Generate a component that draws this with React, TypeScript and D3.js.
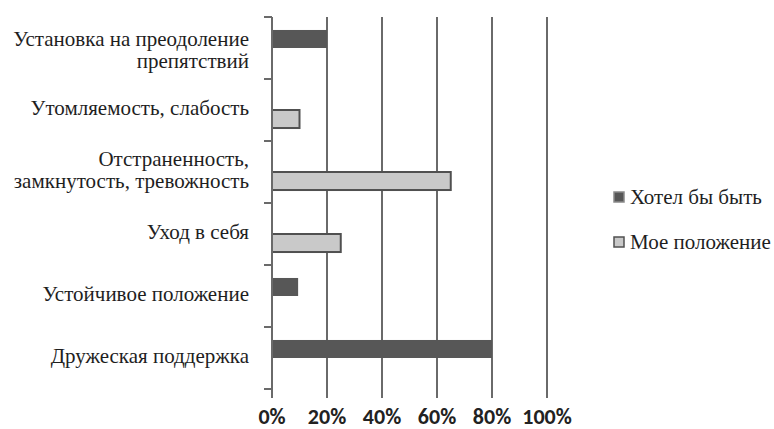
import React from 'react';
import * as d3 from 'd3';

// Categories, top to bottom (| marks a line break in the label)
const categories = [
  'Установка на преодоление|препятствий',
  'Утомляемость, слабость',
  'Отстраненность,|замкнутость, тревожность',
  'Уход в себя',
  'Устойчивое положение',
  'Дружеская поддержка',
];

const seriesNames = ['Хотел бы быть', 'Мое положение'];

// values in %, null = no bar
const wantToBe = [20, null, null, null, 9.5, 80];
const myPosition = [null, 10, 65, 25, null, null];

const xTicks = [0, 20, 40, 60, 80, 100];

const SERIF = "'Liberation Serif', 'Times New Roman', serif";
const SANS = "Carlito, 'Liberation Sans', sans-serif";

const width = 774;
const height = 429;
const left = 272;
const right = 547;
const top = 17;
const bottom = 389;

const x = d3.scaleLinear().domain([0, 100]).range([left, right]);
const y = d3.scaleBand<string>().domain(categories).range([top, bottom]).padding(0);
const ySub = d3.scaleBand<string>()
  .domain(seriesNames)
  .range([0, y.bandwidth()])
  .paddingInner(0)
  .paddingOuter(0.72);

const series = [
  { name: seriesNames[0], values: wantToBe, fill: '#575757', stroke: 'none', key: '#8a8a8a' },
  { name: seriesNames[1], values: myPosition, fill: '#c9c9c9', stroke: '#505050', key: '#505050' },
];

const axisColor = '#6a6a6a';
const lineH = 22;

const App: React.FC = () => {
  if (typeof document !== 'undefined') document.body.style.margin = '0';

  const yTickPos = [...categories.map((c) => y(c) as number), bottom];

  return (
    <svg width={width} height={height} viewBox={`0 0 ${width} ${height}`} style={{ display: 'block', background: '#fff' }}>
      {/* gridlines, running on below the plot as tick marks */}
      {xTicks.map((t) => (
        <line key={`g${t}`} x1={x(t)} x2={x(t)} y1={top} y2={bottom + 9} stroke={axisColor} strokeWidth={2} />
      ))}
      {/* y ticks */}
      {yTickPos.map((p, i) => (
        <line key={`yt${i}`} x1={left - 8} x2={left} y1={p} y2={p} stroke={axisColor} strokeWidth={2} />
      ))}
      {/* bars */}
      {series.map((s) =>
        categories.map((c, i) => {
          const v = s.values[i];
          if (v === null) return null;
          return (
            <rect
              key={`${s.name}${i}`}
              x={x(0)}
              y={(y(c) as number) + (ySub(s.name) as number)}
              width={x(v) - x(0)}
              height={ySub.bandwidth()}
              fill={s.fill}
              stroke={s.stroke}
              strokeWidth={2}
            />
          );
        })
      )}
      {/* y axis */}
      <line x1={left} x2={left} y1={top} y2={bottom} stroke={axisColor} strokeWidth={2} />
      {/* category labels */}
      {categories.map((c) => {
        const lines = c.split('|');
        const cy = (y(c) as number) + y.bandwidth() / 2;
        // first baseline, kept clear of the top of the chart
        const first = Math.max(cy - ((lines.length - 1) / 2) * lineH + 5, top + 29);
        return (
          <text key={c} textAnchor="end" fill="#1e1e1e" style={{ fontFamily: SERIF, fontSize: 21 }}>
            {lines.map((ln, i) => (
              <tspan key={i} x={249} y={first + i * lineH}>
                {ln}
              </tspan>
            ))}
          </text>
        );
      })}
      {/* x tick labels */}
      {xTicks.map((t) => (
        <text
          key={`xl${t}`}
          x={x(t)}
          y={424}
          textAnchor="middle"
          fill="#222"
          style={{ fontFamily: SANS, fontWeight: 'bold', fontSize: 22 }}
        >
          {`${t}%`}
        </text>
      ))}
      {/* legend */}
      {series.map((s, i) => {
        const ly = 197 + i * 45;
        return (
          <g key={s.name}>
            <rect x={614} y={ly - 5} width={10} height={10} fill={s.fill} stroke={s.key} strokeWidth={1.5} />
            <text x={630} y={ly + 7} fill="#1e1e1e" style={{ fontFamily: SERIF, fontSize: 21 }}>
              {s.name}
            </text>
          </g>
        );
      })}
    </svg>
  );
};

export default App;
